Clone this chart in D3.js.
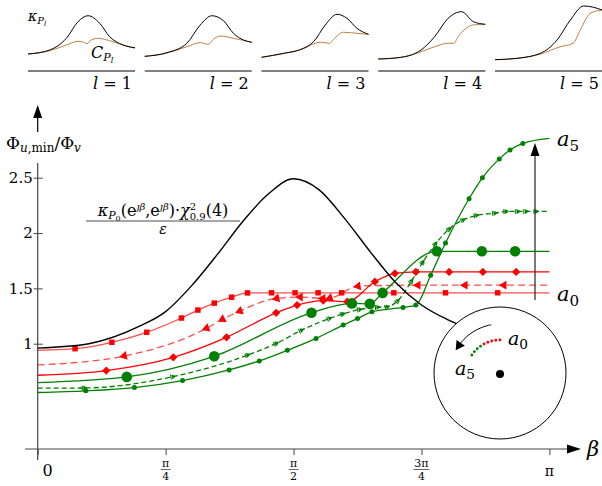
<!DOCTYPE html>
<html>
<head>
<meta charset="utf-8">
<script src="https://cdn.jsdelivr.net/npm/d3@7"></script>
<style>
body { margin: 0; background: #fff; }
svg { display: block; }
</style>
</head>
<body>
<div id="viz"></div>
<script>
// beta is given in units of pi
const blackX = [0, 0.1, 0.2, 0.25, 0.3, 0.35, 0.4, 0.45, 0.5, 0.55, 0.6, 0.65, 0.7, 0.75, 0.8, 0.9, 1];
const blackY = [0.96, 1.0, 1.16, 1.29, 1.52, 1.8, 2.1, 2.35, 2.49, 2.39, 2.13, 1.83, 1.55, 1.35, 1.22, 1.06, 0.97];

const a0X = [0, 0.073, 0.145, 0.213, 0.281, 0.313, 0.345, 0.379, 0.41, 0.457, 0.503, 0.548, 0.594, 0.696, 0.797, 0.899, 1];
const a0Y = [0.94, 0.955, 1.013, 1.103, 1.232, 1.304, 1.367, 1.42, 1.459, 1.46, 1.46, 1.46, 1.46, 1.46, 1.46, 1.46, 1.46];
const a1X = [0, 0.169, 0.33, 0.361, 0.395, 0.467, 0.513, 0.557, 0.571, 0.626, 0.743, 0.835, 0.911, 1];
const a1Y = [0.808, 0.889, 1.139, 1.22, 1.295, 1.409, 1.421, 1.41, 1.412, 1.52, 1.529, 1.529, 1.529, 1.529];
const a2X = [0, 0.134, 0.265, 0.369, 0.466, 0.507, 0.558, 0.605, 0.659, 0.698, 0.739, 0.804, 0.87, 0.935, 1];
const a2Y = [0.715, 0.757, 0.877, 1.058, 1.279, 1.349, 1.39, 1.38, 1.56, 1.635, 1.649, 1.649, 1.649, 1.649, 1.649];
const a3X = [0, 0.174, 0.345, 0.535, 0.614, 0.649, 0.674, 0.78, 0.868, 0.933, 1];
const a3Y = [0.649, 0.70, 0.886, 1.279, 1.364, 1.36, 1.459, 1.835, 1.835, 1.835, 1.835];
const a4X = [0, 0.092, 0.265, 0.411, 0.467, 0.516, 0.571, 0.597, 0.63, 0.665, 0.684, 0.704, 0.731, 0.753, 0.778, 0.805, 0.832, 0.858, 0.894, 0.916, 0.939, 0.955, 0.975, 1];
const a4Y = [0.598, 0.60, 0.703, 0.898, 1.004, 1.123, 1.23, 1.27, 1.31, 1.33, 1.335, 1.39, 1.57, 1.74, 1.905, 2.04, 2.12, 2.16, 2.18, 2.195, 2.195, 2.195, 2.195, 2.195];
const a5X = [0, 0.094, 0.189, 0.283, 0.374, 0.433, 0.488, 0.544, 0.597, 0.625, 0.653, 0.714, 0.739, 0.768, 0.797, 0.843, 0.869, 0.902, 0.923, 0.948, 1];
const a5Y = [0.559, 0.574, 0.604, 0.667, 0.763, 0.844, 0.94, 1.048, 1.168, 1.228, 1.288, 1.328, 1.349, 1.619, 1.91, 2.31, 2.499, 2.67, 2.751, 2.81, 2.856];

const yTicks = [1, 1.5, 2, 2.5];
const yTickLabels = ["1", "1.5", "2", "2.5"];
const xTicks = [0, 0.25, 0.5, 0.75, 1];
const xTickNum = ["0", "π", "π", "3π", "π"];
const xTickDen = ["", "4", "2", "4", ""];

// small panels l = 1..5 : t across panel, value 0..1
const panelNames = ["1", "2", "3", "4", "5"];
const kappaT = [
  [0, 0.203, 0.359, 0.467, 0.561, 0.67, 0.763, 0.888, 1],
  [0, 0.208, 0.394, 0.518, 0.627, 0.736, 0.829, 0.922, 1],
  [0, 0.208, 0.363, 0.487, 0.596, 0.706, 0.799, 0.892, 1],
  [0, 0.211, 0.4, 0.527, 0.653, 0.779, 0.89, 1],
  [0, 0.208, 0.425, 0.58, 0.704, 0.829, 0.922, 1]
];
const kappaV = [
  [0.109, 0.182, 0.395, 0.696, 0.805, 0.667, 0.424, 0.273, 0.224],
  [0.067, 0.133, 0.304, 0.636, 0.805, 0.715, 0.485, 0.364, 0.322],
  [0.049, 0.122, 0.19, 0.333, 0.636, 0.831, 0.758, 0.576, 0.467],
  [0.018, 0.049, 0.182, 0.424, 0.758, 0.878, 0.696, 0.649],
  [0.006, 0.031, 0.122, 0.364, 0.727, 0.982, 0.958, 0.909]
];
const costT = [
  [0, 0.203, 0.359, 0.467, 0.53, 0.551, 0.592, 0.654, 0.763, 0.888, 1],
  [0, 0.208, 0.394, 0.518, 0.596, 0.642, 0.705, 0.829, 1],
  [0, 0.208, 0.363, 0.549, 0.636, 0.673, 0.766, 0.892, 1],
  [0, 0.211, 0.4, 0.527, 0.653, 0.706, 0.747, 0.842, 0.905, 1],
  [0, 0.208, 0.425, 0.611, 0.729, 0.797, 0.89, 1]
];
const costV = [
  [0.109, 0.169, 0.273, 0.34, 0.315, 0.296, 0.364, 0.394, 0.351, 0.273, 0.213],
  [0.067, 0.128, 0.242, 0.315, 0.285, 0.376, 0.436, 0.394, 0.322],
  [0.049, 0.118, 0.185, 0.322, 0.304, 0.376, 0.504, 0.485, 0.467],
  [0.018, 0.047, 0.151, 0.242, 0.304, 0.304, 0.424, 0.605, 0.642, 0.649],
  [0.006, 0.03, 0.109, 0.242, 0.304, 0.545, 0.849, 0.909]
];

// inset: dot angles (deg) on the small arc
const insetRed = [90, 97, 104, 111, 118];
const insetGreen = [125, 132, 139, 146];

const FONT = "'DejaVu Serif', 'Liberation Serif', serif";
let w = 602, h = 486;
let viz = d3.select("#viz").append("svg").attr("width", w).attr("height", h)
  .attr("font-family", FONT).style("font-family", FONT);

const x = d3.scaleLinear().domain([0, 1]).range([37.7, 549.4]);
const y = d3.scaleLinear().domain([1, 2.5]).range([343.7, 177.7]);
const RED = "#ff0000", GREEN = "#008000";

// ---------- top panels ----------
const px = d3.scaleBand().domain(panelNames).range([28, 602]).paddingInner(0.0835).paddingOuter(0);
const py = d3.scaleLinear().domain([0, 1]).range([60, 5]);
panelNames.forEach((name, i) => {
  let g = viz.append("g").attr("transform", `translate(${px(name)},0)`);
  let pw = px.bandwidth();
  let tx = d3.scaleLinear().domain([0, 1]).range([0, pw]);
  let ln = d3.line().x(d => tx(d[0])).y(d => py(d[1])).curve(d3.curveMonotoneX);
  g.append("path").attr("d", ln(d3.zip(costT[i], costV[i])))
    .attr("fill", "none").attr("stroke", "#bf8040").attr("stroke-width", 1);
  g.append("path").attr("d", ln(d3.zip(kappaT[i], kappaV[i])))
    .attr("fill", "none").attr("stroke", "#000").attr("stroke-width", 1);
  g.append("line").attr("x1", 0).attr("x2", pw).attr("y1", 71).attr("y2", 71)
    .attr("stroke", "#000").attr("stroke-width", 1.1);
  let t = g.append("text").attr("x", pw - 3).attr("y", 89).attr("text-anchor", "end").attr("font-size", 16);
  t.append("tspan").attr("font-style", "italic").text("l");
  t.append("tspan").text(" = " + name);
});
// kappa / C labels
let kl = viz.append("text").attr("x", 28).attr("y", 21).attr("font-size", 14);
kl.append("tspan").attr("font-style", "italic").text("κ");
kl.append("tspan").attr("font-style", "italic").attr("font-size", 10).attr("dy", 3).text("P");
kl.append("tspan").attr("font-style", "italic").attr("font-size", 7).attr("dy", 2).text("l");
let cl = viz.append("text").attr("x", 91).attr("y", 58).attr("font-size", 16);
cl.append("tspan").attr("font-style", "italic").text("C");
cl.append("tspan").attr("font-style", "italic").attr("font-size", 11).attr("dy", 3).text("P");
cl.append("tspan").attr("font-style", "italic").attr("font-size", 8).attr("dy", 2).text("l");

// ---------- axes ----------
viz.append("line").attr("x1", 37.7).attr("x2", 37.7).attr("y1", 460).attr("y2", 163).attr("stroke", "#444").attr("stroke-width", 1.2);
viz.append("line").attr("x1", 37.7).attr("x2", 37.7).attr("y1", 132).attr("y2", 116).attr("stroke", "#000").attr("stroke-width", 1.2);
viz.append("path").attr("d", "M37.7,105 L33.2,118 L42.2,118 Z").attr("fill", "#000");
viz.append("line").attr("x1", 25).attr("x2", 570).attr("y1", 449).attr("y2", 449).attr("stroke", "#444").attr("stroke-width", 1.2);
viz.append("path").attr("d", "M581,449 L567,444.5 L567,453.5 Z").attr("fill", "#000");

let yAxis = viz.append("g").attr("transform", "translate(37.7,0)")
  .call(d3.axisLeft(y).tickValues(yTicks).tickSize(4).tickFormat((d, i) => yTickLabels[i]));
yAxis.attr("font-family", FONT);
yAxis.select(".domain").remove();
yAxis.selectAll(".tick line").attr("x1", 5).attr("x2", -4).attr("stroke", "#444");
yAxis.selectAll(".tick text").attr("x", -5).attr("font-size", 15).attr("fill", "#000");

let xAxis = viz.append("g").attr("transform", "translate(0,449)")
  .call(d3.axisBottom(x).tickValues(xTicks).tickSize(6).tickFormat(""));
xAxis.select(".domain").remove();
xAxis.selectAll(".tick line").attr("stroke", "#444");
xTicks.forEach((v, i) => {
  if (xTickDen[i] === "") {
    viz.append("text").attr("x", i === 0 ? x(v) + 10 : x(v)).attr("y", 476)
      .attr("text-anchor", "middle").attr("font-size", i === 0 ? 16 : 14).text(xTickNum[i]);
  } else {
    let half = xTickNum[i].length > 1 ? 8 : 5;
    viz.append("text").attr("x", x(v)).attr("y", 467).attr("text-anchor", "middle").attr("font-size", 11).text(xTickNum[i]);
    viz.append("line").attr("x1", x(v) - half).attr("x2", x(v) + half)
      .attr("y1", 469.5).attr("y2", 469.5).attr("stroke", "#000").attr("stroke-width", 0.6);
    viz.append("text").attr("x", x(v)).attr("y", 480).attr("text-anchor", "middle").attr("font-size", 11).text(xTickDen[i]);
  }
});
viz.append("text").attr("x", 587).attr("y", 456).attr("font-size", 21).attr("font-style", "italic").text("β");

let yl = viz.append("text").attr("x", 6).attr("y", 149).attr("font-size", 17);
yl.append("tspan").text("Φ");
yl.append("tspan").attr("font-size", 12).attr("font-style", "italic").attr("dy", 3).text("u");
yl.append("tspan").attr("font-size", 12).text(",min");
yl.append("tspan").attr("dy", -3).text("/Φ");
yl.append("tspan").attr("font-size", 12).attr("font-style", "italic").attr("dy", 3).text("v");

// ---------- series ----------
const seriesX = [a0X, a1X, a2X, a3X, a4X, a5X];
const seriesY = [a0Y, a1Y, a2Y, a3Y, a4Y, a5Y];
const seriesColor = [RED, RED, RED, GREEN, GREEN, GREEN];
const seriesOpacity = [0.7, 0.7, 1, 1, 1, 1];
const seriesDash = [null, "7,4", null, null, "5,3", null];
const seriesMark = ["square", "triBack", "diamond", "bigCircle", "triFwd", "smallCircle"];

const line = d3.line().x(d => x(d[0])).y(d => y(d[1])).curve(d3.curveMonotoneX);

function angleAt(xs, ys, i) {
  let i0 = Math.max(0, i - 1), i1 = Math.min(xs.length - 1, i + 1);
  return Math.atan2(y(ys[i1]) - y(ys[i0]), x(xs[i1]) - x(xs[i0])) * 180 / Math.PI;
}

seriesX.forEach((xs, s) => {
  let ys = seriesY[s];
  viz.append("path").attr("d", line(d3.zip(xs, ys)))
    .attr("fill", "none").attr("stroke", seriesColor[s]).attr("stroke-opacity", seriesOpacity[s])
    .attr("stroke-width", 1.3).attr("stroke-dasharray", seriesDash[s]);
});
seriesX.forEach((xs, s) => {
  let ys = seriesY[s];
  let g = viz.append("g").attr("fill", seriesColor[s]);
  for (let i = 1; i < xs.length - 1; i++) {
    let cx = x(xs[i]), cy = y(ys[i]);
    let m = seriesMark[s];
    if (m === "square") {
      g.append("path").attr("d", d3.symbol(d3.symbolSquare, 30)()).attr("transform", `translate(${cx},${cy})`);
    } else if (m === "diamond") {
      g.append("path").attr("d", d3.symbol(d3.symbolSquare, 34)()).attr("transform", `translate(${cx},${cy}) rotate(45)`);
    } else if (m === "bigCircle") {
      g.append("circle").attr("cx", cx).attr("cy", cy).attr("r", 5.3);
    } else if (m === "smallCircle") {
      g.append("circle").attr("cx", cx).attr("cy", cy).attr("r", 2.5);
    } else if (m === "triBack") {
      let a = angleAt(xs, ys, i);
      g.append("path").attr("d", d3.symbol(d3.symbolTriangle, 34)()).attr("transform", `translate(${cx},${cy}) rotate(${a + 270})`);
    } else if (m === "triFwd") {
      let a = angleAt(xs, ys, i);
      g.append("path").attr("d", d3.symbol(d3.symbolTriangle, 11)()).attr("transform", `translate(${cx},${cy}) rotate(${a + 90})`);
      g.append("path").attr("d", "M0,-2.5 L0,2.5").attr("stroke", seriesColor[s]).attr("stroke-width", 1.1)
        .attr("transform", `translate(${cx},${cy}) rotate(${a}) translate(-2.5,0)`);
    }
  }
});

// ---------- black reference curve ----------
viz.append("path").attr("d", line(d3.zip(blackX, blackY)))
  .attr("fill", "none").attr("stroke", "#000").attr("stroke-width", 1.4);

let fr = viz.append("text").attr("x", 163).attr("y", 216).attr("text-anchor", "middle").attr("font-size", 16);
fr.append("tspan").attr("font-style", "italic").text("κ");
fr.append("tspan").attr("font-style", "italic").attr("font-size", 11).attr("dy", 3).text("P");
fr.append("tspan").attr("font-size", 8).attr("dy", 1.5).text("0");
fr.append("tspan").attr("dy", -4.5).text("(e");
fr.append("tspan").attr("font-style", "italic").attr("font-size", 10).attr("dy", -6).text("ȷβ");
fr.append("tspan").attr("dy", 6).text(",e");
fr.append("tspan").attr("font-style", "italic").attr("font-size", 10).attr("dy", -6).text("ȷβ");
fr.append("tspan").attr("dy", 6).text(")·");
fr.append("tspan").attr("font-style", "italic").text("χ");
fr.append("tspan").attr("font-size", 10).attr("dy", -6).text("2");
fr.append("tspan").attr("font-size", 10).attr("dy", 9.5).attr("dx", -6.4).text("0.9");
fr.append("tspan").attr("dy", -3.5).text("(4)");
viz.append("line").attr("x1", 86).attr("x2", 240).attr("y1", 221).attr("y2", 221).attr("stroke", "#000").attr("stroke-width", 0.7);
viz.append("text").attr("x", 163).attr("y", 234).attr("text-anchor", "middle").attr("font-size", 14).attr("font-style", "italic").text("ε");

// ---------- right labels and arrow ----------
viz.append("line").attr("x1", 535).attr("x2", 535).attr("y1", 300).attr("y2", 154).attr("stroke", "#333").attr("stroke-width", 1.3);
viz.append("path").attr("d", "M535,143 L530.5,156 L539.5,156 Z").attr("fill", "#000");

function aLabel(tx, ty, sub, size) {
  let t = viz.append("text").attr("x", tx).attr("y", ty).attr("font-size", size);
  t.append("tspan").attr("font-style", "italic").text("a");
  t.append("tspan").attr("font-size", size * 0.72).attr("dy", size * 0.22).text(sub);
}
aLabel(557, 146, "5", 21);
aLabel(557, 301, "0", 21);

// ---------- inset ----------
const icx = 500, icy = 373, ir = 66;
viz.append("circle").attr("cx", icx).attr("cy", icy).attr("r", ir).attr("fill", "#fff").attr("stroke", "#000").attr("stroke-width", 1);
viz.append("circle").attr("cx", icx).attr("cy", icy + 1).attr("r", 4).attr("fill", "#000");
const rad = a => a * Math.PI / 180;
insetRed.forEach(a => viz.append("circle").attr("cx", icx + 34 * Math.cos(rad(a))).attr("cy", icy + 1 - 34 * Math.sin(rad(a))).attr("r", 1.4).attr("fill", RED));
insetGreen.forEach(a => viz.append("circle").attr("cx", icx + 34 * Math.cos(rad(a))).attr("cy", icy + 1 - 34 * Math.sin(rad(a))).attr("r", 1.4).attr("fill", GREEN));
let arcPts = d3.range(100, 143, 3).map(a => [icx + 50 * Math.cos(rad(a)), icy + 1 - 50 * Math.sin(rad(a))]);
viz.append("path").attr("d", d3.line().curve(d3.curveCatmullRom)(arcPts)).attr("fill", "none").attr("stroke", "#000").attr("stroke-width", 1);
let endA = 145;
let ex = icx + 50 * Math.cos(rad(endA)), ey = icy + 1 - 50 * Math.sin(rad(endA));
let dirDeg = Math.atan2(-Math.cos(rad(endA)), -Math.sin(rad(endA))) * 180 / Math.PI;
viz.append("path").attr("d", d3.symbol(d3.symbolTriangle, 45)())
  .attr("transform", `translate(${ex},${ey}) rotate(${dirDeg + 90})`).attr("fill", "#000");
aLabel(508, 345, "0", 19);
aLabel(455, 375, "5", 19);
</script>
</body>
</html>
